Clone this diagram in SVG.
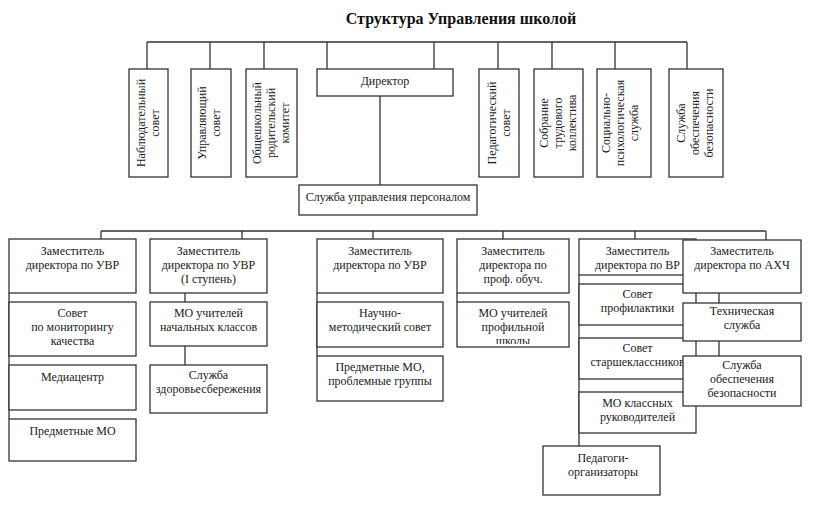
<svg xmlns="http://www.w3.org/2000/svg" width="818" height="506" viewBox="0 0 818 506">
<style>
.box{fill:#fff;stroke:#333;stroke-width:1.3}
.ln{fill:none;stroke:#333;stroke-width:1.3}
.t{font-family:"Liberation Serif","Times New Roman",serif;font-size:12px;fill:#1a1a1a;text-anchor:middle}
.ttl{font-family:"Liberation Serif","Times New Roman",serif;font-size:16px;font-weight:bold;fill:#111;text-anchor:middle}
</style>
<defs>
<clipPath id="clipProf"><rect x="457" y="302" width="112" height="42"/></clipPath>
</defs>
<rect width="818" height="506" fill="#fff"/>
<text class="ttl" x="461" y="24">Структура Управления школой</text>

<g id="connectors" class="ln">
<path d="M147,42 H687 M147,42 V69 M210,42 V69 M264,42 V69 M327,42 V69 M434,42 V69 M498,42 V69 M552,42 V69 M615,42 V69 M687,42 V69"/>
<path d="M380,96 V185"/>
<path d="M101,231 H766 M101,231 V239 M242,231 V239 M373,231 V239 M503,231 V239 M635,231 V239 M766,231 V240"/>
<path d="M9,293 V419 M185,293 V365 M317,293 V356 M457,293 V302 M579,275 V446 M719,293 V356"/>
</g>

<g id="nabl">
<rect class="box" x="129" y="69" width="39" height="108"/>
<text class="t" transform="translate(145,123) rotate(-90)">Наблюдательный</text>
<text class="t" transform="translate(159,123) rotate(-90)">совет</text>
</g>
<g id="uprav">
<rect class="box" x="191" y="69" width="40" height="108"/>
<text class="t" transform="translate(206,123) rotate(-90)">Управляющий</text>
<text class="t" transform="translate(220,123) rotate(-90)">совет</text>
</g>
<g id="roditel">
<rect class="box" x="246" y="69" width="51" height="108"/>
<text class="t" transform="translate(261,123) rotate(-90)">Общешкольный</text>
<text class="t" transform="translate(275,123) rotate(-90)">родительский</text>
<text class="t" transform="translate(289,123) rotate(-90)">комитет</text>
</g>
<g id="director">
<rect class="box" x="317" y="69" width="136" height="27"/>
<text class="t" x="385" y="85">Директор</text>
</g>
<g id="pedsovet">
<rect class="box" x="479" y="69" width="40" height="108"/>
<text class="t" transform="translate(496,123) rotate(-90)">Педагогический</text>
<text class="t" transform="translate(510,123) rotate(-90)">совет</text>
</g>
<g id="sobranie">
<rect class="box" x="534" y="69" width="49" height="108"/>
<text class="t" transform="translate(548,123) rotate(-90)">Собрание</text>
<text class="t" transform="translate(562,123) rotate(-90)">трудового</text>
<text class="t" transform="translate(576,123) rotate(-90)">коллектива</text>
</g>
<g id="socpsych">
<rect class="box" x="597" y="69" width="54" height="108"/>
<text class="t" transform="translate(610,123) rotate(-90)">Социально-</text>
<text class="t" transform="translate(624,123) rotate(-90)">психологическая</text>
<text class="t" transform="translate(638,123) rotate(-90)">служба</text>
</g>
<g id="bezop-top">
<rect class="box" x="669" y="69" width="54" height="108"/>
<text class="t" transform="translate(685,123) rotate(-90)">Служба</text>
<text class="t" transform="translate(699,123) rotate(-90)">обеспечения</text>
<text class="t" transform="translate(713,123) rotate(-90)">безопасности</text>
</g>
<g id="personnel">
<rect class="box" x="299" y="185" width="178" height="30"/>
<text class="t" x="388" y="201">Служба управления персоналом</text>
</g>

<g id="zam-uvr-1">
<rect class="box" x="9" y="239" width="127" height="54"/>
<text class="t" x="72.5" y="255">Заместитель<tspan x="72.5" dy="14">директора по УВР</tspan></text>
</g>
<g id="monitoring">
<rect class="box" x="9" y="302" width="127" height="54"/>
<text class="t" x="72.5" y="317">Совет<tspan x="72.5" dy="14">по мониторингу</tspan><tspan x="72.5" dy="14">качества</tspan></text>
</g>
<g id="mediacenter">
<rect class="box" x="9" y="365" width="127" height="45"/>
<text class="t" x="72.5" y="381">Медиацентр</text>
</g>
<g id="predmet-mo-1">
<rect class="box" x="9" y="419" width="127" height="42"/>
<text class="t" x="72.5" y="435">Предметные МО</text>
</g>

<g id="zam-uvr-2">
<rect class="box" x="150" y="239" width="117" height="54"/>
<text class="t" x="208.5" y="255">Заместитель<tspan x="208.5" dy="14">директора по УВР</tspan><tspan x="208.5" dy="14">(I ступень)</tspan></text>
</g>
<g id="mo-nach">
<rect class="box" x="150" y="302" width="117" height="44"/>
<text class="t" x="208.5" y="317">МО учителей<tspan x="208.5" dy="14">начальных классов</tspan></text>
</g>
<g id="zdorov">
<rect class="box" x="150" y="365" width="117" height="48"/>
<text class="t" x="208.5" y="379">Служба<tspan x="208.5" dy="14">здоровьесбережения</tspan></text>
</g>

<g id="zam-uvr-3">
<rect class="box" x="317" y="239" width="126" height="54"/>
<text class="t" x="380" y="255">Заместитель<tspan x="380" dy="14">директора по УВР</tspan></text>
</g>
<g id="nms">
<rect class="box" x="317" y="302" width="126" height="45"/>
<text class="t" x="380" y="317">Научно-<tspan x="380" dy="14">методический совет</tspan></text>
</g>
<g id="predmet-mo-2">
<rect class="box" x="317" y="356" width="126" height="45"/>
<text class="t" x="380" y="371">Предметные МО,<tspan x="380" dy="14">проблемные группы</tspan></text>
</g>

<g id="zam-prof">
<rect class="box" x="457" y="239" width="112" height="54"/>
<text class="t" x="513" y="255">Заместитель<tspan x="513" dy="14">директора по</tspan><tspan x="513" dy="14">проф. обуч.</tspan></text>
</g>
<g id="mo-prof">
<rect class="box" x="457" y="302" width="112" height="45"/>
<text class="t" x="513" y="317" clip-path="url(#clipProf)">МО учителей<tspan x="513" dy="14">профильной</tspan><tspan x="513" dy="14">школы</tspan></text>
</g>

<g id="zam-vr">
<rect class="box" x="579" y="239" width="117" height="36"/>
<text class="t" x="637.5" y="255">Заместитель<tspan x="637.5" dy="14">директора по ВР</tspan></text>
</g>
<g id="profilaktika">
<rect class="box" x="579" y="284" width="117" height="41"/>
<text class="t" x="637.5" y="298">Совет<tspan x="637.5" dy="14">профилактики</tspan></text>
</g>
<g id="starsheklassniki">
<rect class="box" x="579" y="338" width="117" height="41"/>
<text class="t" x="637.5" y="352">Совет<tspan x="637.5" dy="14">старшеклассников</tspan></text>
</g>
<g id="mo-klass">
<rect class="box" x="579" y="392" width="117" height="41"/>
<text class="t" x="637.5" y="407">МО классных<tspan x="637.5" dy="14">руководителей</tspan></text>
</g>
<g id="pedorg">
<rect class="box" x="543" y="446" width="117" height="49"/>
<text class="t" x="603" y="462">Педагоги-<tspan x="603" dy="14">организаторы</tspan></text>
</g>

<g id="zam-ahch">
<rect class="box" x="683" y="240" width="118" height="53"/>
<text class="t" x="742" y="255">Заместитель<tspan x="742" dy="14">директора по АХЧ</tspan></text>
</g>
<g id="tech">
<rect class="box" x="683" y="303" width="118" height="38"/>
<text class="t" x="742" y="315">Техническая<tspan x="742" dy="14">служба</tspan></text>
</g>
<g id="bezop">
<rect class="box" x="683" y="356" width="118" height="50"/>
<text class="t" x="742" y="369">Служба<tspan x="742" dy="14">обеспечения</tspan><tspan x="742" dy="14">безопасности</tspan></text>
</g>
</svg>
